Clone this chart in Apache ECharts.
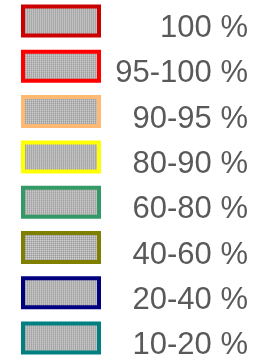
<!DOCTYPE html>
<html>
<head>
<meta charset="utf-8">
<script src="https://cdn.jsdelivr.net/npm/echarts@6/dist/echarts.min.js"></script>
<style>
  html, body { margin: 0; padding: 0; background: #fff; }
  #chart { width: 272px; height: 364px; }
</style>
</head>
<body>
<div id="chart"></div>
<script>
// legend classes and their border colours
var classNames = ['100 %', '95-100 %', '90-95 %', '80-90 %', '60-80 %', '40-60 %', '20-40 %', '10-20 %'];
var borderColors = ['#cc0000', '#ff0000', '#ffb973', '#ffff00', '#339966', '#808000', '#000080', '#008080'];

// dotted gray fill used in every swatch
function makePattern() {
    var c = document.createElement('canvas');
    c.width = 2; c.height = 2;
    var ctx = c.getContext('2d');
    ctx.fillStyle = '#cfcfcf'; ctx.fillRect(0, 0, 2, 2);
    ctx.fillStyle = '#b4b4b4'; ctx.fillRect(1, 0, 1, 1); ctx.fillRect(0, 1, 1, 1);
    ctx.fillStyle = '#9c9c9c'; ctx.fillRect(0, 0, 1, 1);
    return { image: c, repeat: 'repeat' };
}
var fillPattern = makePattern();

var chart = echarts.init(document.getElementById('chart'));

var series = classNames.map(function(name, i) {
    return {
        name: name,
        type: 'bar',
        data: [],
        itemStyle: { color: fillPattern, borderColor: borderColors[i], borderWidth: 4 }
    };
});

var legendData = classNames.map(function(name, i) {
    return {
        name: name,
        icon: 'rect',
        itemStyle: { color: fillPattern, borderColor: borderColors[i], borderWidth: 4 }
    };
});

var option = {
    animation: false,
    xAxis: { show: false, type: 'category', data: [] },
    yAxis: { show: false },
    grid: { left: 0, right: 0, top: 0, bottom: 0 },
    legend: {
        orient: 'vertical',
        left: 21,
        top: 4.5,
        height: 420,
        padding: 0,
        itemWidth: 76,
        itemHeight: 29,
        itemGap: 5.8,
        selectedMode: false,
        data: legendData,
        formatter: function(name) { return '{t|' + name + '}'; },
        textStyle: {
            color: '#595959',
            fontFamily: 'Liberation Sans, Arial, sans-serif',
            fontSize: 31,
            rich: {
                t: {
                    color: '#595959',
                    fontFamily: 'Liberation Sans, Arial, sans-serif',
                    fontSize: 31,
                    padding: [15, 0, 0, 0],
                    width: 144,
                    align: 'right'
                }
            }
        }
    },
    series: series
};

chart.setOption(option);
</script>
</body>
</html>
